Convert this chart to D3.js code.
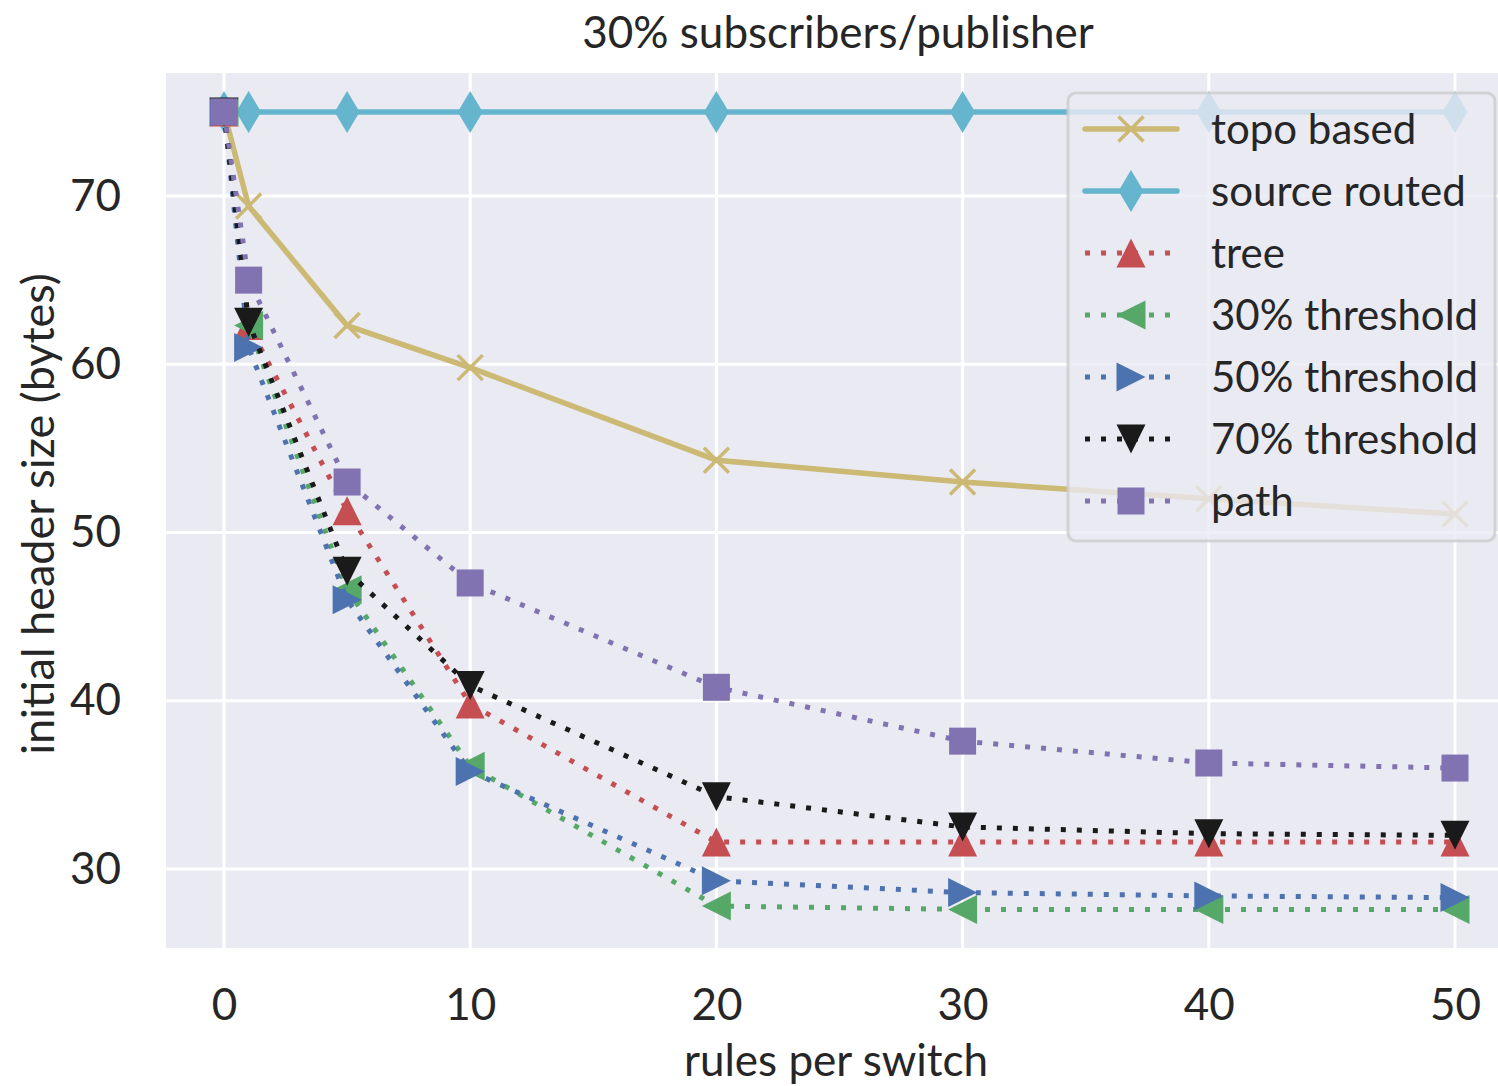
<!DOCTYPE html>
<html>
<head>
<meta charset="utf-8">
<script src="https://cdn.jsdelivr.net/npm/d3@7"></script>
<style>
  html, body { margin: 0; padding: 0; background: #ffffff; }
  svg { display: block; }
  text { font-family: Lato, "Open Sans", sans-serif; fill: #262626; }
</style>
</head>
<body>
<svg id="chart" width="1498" height="1086"></svg>
<script>
// rules per switch
const rules = [0, 1, 5, 10, 20, 30, 40, 50];

// initial header size (bytes) per strategy
const topoBased     = [75, 69.4, 62.3, 59.8, 54.3, 53.0, 52.0, 51.1];
const sourceRouted  = [75, 75, 75, 75, 75, 75, 75, 75];
const tree          = [75, 62.3, 51.3, 39.8, 31.6, 31.6, 31.6, 31.6];
const threshold30   = [75, 62.3, 46.6, 36.1, 27.8, 27.6, 27.6, 27.6];
const threshold50   = [75, 61.0, 46.0, 35.8, 29.3, 28.6, 28.4, 28.3];
const threshold70   = [75, 62.5, 47.7, 40.9, 34.3, 32.5, 32.1, 32.0];
const pathBased     = [75, 65.0, 53.0, 47.0, 40.8, 37.6, 36.3, 36.0];

const xTicks = [0, 10, 20, 30, 40, 50];
const yTicks = [30, 40, 50, 60, 70];

const series = [
  { name: "topo based",     values: topoBased,    color: "#CCB974", dotted: false, marker: "x" },
  { name: "source routed",  values: sourceRouted, color: "#64B5CD", dotted: false, marker: "diamond" },
  { name: "tree",           values: tree,         color: "#C44E52", dotted: true,  marker: "up" },
  { name: "30% threshold",  values: threshold30,  color: "#55A868", dotted: true,  marker: "left" },
  { name: "50% threshold",  values: threshold50,  color: "#4C72B0", dotted: true,  marker: "right" },
  { name: "70% threshold",  values: threshold70,  color: "#1A1A1A", dotted: true,  marker: "down" },
  { name: "path",           values: pathBased,    color: "#8172B2", dotted: true,  marker: "square" }
];

const plot = { left: 166, top: 73, right: 1498, bottom: 948 };

const x = d3.scaleLinear().domain([0, 50]).range([224, 1455]);
const y = d3.scaleLinear().domain([30, 70]).range([869, 196]);

const svg = d3.select("#chart");

svg.append("defs").append("clipPath").attr("id", "plotclip")
  .append("rect")
  .attr("x", plot.left).attr("y", plot.top)
  .attr("width", plot.right - plot.left).attr("height", plot.bottom - plot.top);

// axes background
svg.append("rect")
  .attr("x", plot.left).attr("y", plot.top)
  .attr("width", plot.right - plot.left).attr("height", plot.bottom - plot.top)
  .attr("fill", "#EAEAF2");

// grid
const grid = svg.append("g").attr("clip-path", "url(#plotclip)");
grid.selectAll("line.gx").data(xTicks).join("line")
  .attr("x1", d => x(d)).attr("x2", d => x(d))
  .attr("y1", plot.top).attr("y2", plot.bottom)
  .attr("stroke", "#ffffff").attr("stroke-width", 3);
grid.selectAll("line.gy").data(yTicks).join("line")
  .attr("y1", d => y(d)).attr("y2", d => y(d))
  .attr("x1", plot.left).attr("x2", plot.right)
  .attr("stroke", "#ffffff").attr("stroke-width", 3);

// tick labels via d3 axes (lines hidden)
const xAxis = svg.append("g")
  .attr("transform", `translate(0,${plot.bottom})`)
  .call(d3.axisBottom(x).tickValues(xTicks).tickSize(0).tickPadding(41).tickFormat(d3.format("d")));
const yAxis = svg.append("g")
  .attr("transform", `translate(${plot.left},0)`)
  .call(d3.axisLeft(y).tickValues(yTicks).tickSize(0).tickPadding(45).tickFormat(d3.format("d")));
[xAxis, yAxis].forEach(a => {
  a.select(".domain").remove();
  a.selectAll("text").attr("font-size", 44).attr("fill", "#262626")
    .style("font-family", "Lato, 'Open Sans', sans-serif");
});
xAxis.selectAll("text").attr("dy", "0.71em");

// marker shapes
const S = 29;
function markerPath(kind, s) {
  const h = s / 2;
  switch (kind) {
    case "up":    return `M0,${-h}L${h},${h}L${-h},${h}Z`;
    case "down":  return `M0,${h}L${h},${-h}L${-h},${-h}Z`;
    case "left":  return `M${-h},0L${h},${-h}L${h},${h}Z`;
    case "right": return `M${h},0L${-h},${-h}L${-h},${h}Z`;
    case "square": { const q = 27 / 2; return `M${-q},${-q}H${q}V${q}H${-q}Z`; }
    case "diamond": return `M0,-21L12.5,0L0,21L-12.5,0Z`;
    case "x": { const q = 12.5; return `M${-q},${-q}L${q},${q}M${-q},${q}L${q},${-q}`; }
  }
}
function drawMarker(g, kind, color) {
  const p = g.append("path").attr("d", markerPath(kind, S));
  if (kind === "x") p.attr("fill", "none").attr("stroke", color).attr("stroke-width", 3.5);
  else p.attr("fill", color);
}

const line = d3.line().x((d, i) => x(rules[i])).y(d => y(d));
const data = svg.append("g").attr("clip-path", "url(#plotclip)");

series.forEach(s => {
  const g = data.append("g");
  g.append("path")
    .attr("d", line(s.values))
    .attr("fill", "none")
    .attr("stroke", s.color)
    .attr("stroke-width", s.dotted ? 5 : 5.5)
    .attr("stroke-linejoin", "round")
    .attr("stroke-linecap", s.dotted ? "butt" : "round")
    .attr("stroke-dasharray", s.dotted ? "5,11" : null);
  s.values.forEach((v, i) => {
    const m = g.append("g").attr("transform", `translate(${x(rules[i])},${y(v)})`);
    drawMarker(m, s.marker, s.color);
  });
});

// legend
const legend = svg.append("g");
legend.append("rect")
  .attr("x", 1068).attr("y", 93).attr("width", 427).attr("height", 448)
  .attr("rx", 8).attr("ry", 8)
  .attr("fill", "rgba(234,234,242,0.8)")
  .attr("stroke", "rgba(204,204,204,0.8)").attr("stroke-width", 3);

series.forEach((s, i) => {
  const cy = 129 + i * 62;
  const g = legend.append("g").attr("transform", `translate(0,${cy})`);
  g.append("line")
    .attr("x1", 1085).attr("x2", 1177).attr("y1", 0).attr("y2", 0)
    .attr("stroke", s.color).attr("stroke-width", s.dotted ? 5 : 5.5)
    .attr("stroke-linecap", s.dotted ? "butt" : "round")
    .attr("stroke-dasharray", s.dotted ? "5,11" : null);
  drawMarker(g.append("g").attr("transform", "translate(1131,0)"), s.marker, s.color);
  g.append("text")
    .attr("x", 1211).attr("y", 0).attr("dy", "0.35em")
    .attr("font-size", 42)
    .text(s.name);
});

// title and axis labels
svg.append("text")
  .attr("x", 838).attr("y", 48)
  .attr("text-anchor", "middle").attr("font-size", 44)
  .text("30% subscribers/publisher");
svg.append("text")
  .attr("x", 836).attr("y", 1076)
  .attr("text-anchor", "middle").attr("font-size", 44)
  .text("rules per switch");
svg.append("text")
  .attr("transform", "translate(54,514) rotate(-90)")
  .attr("text-anchor", "middle").attr("font-size", 45)
  .text("initial header size (bytes)");
</script>
</body>
</html>
